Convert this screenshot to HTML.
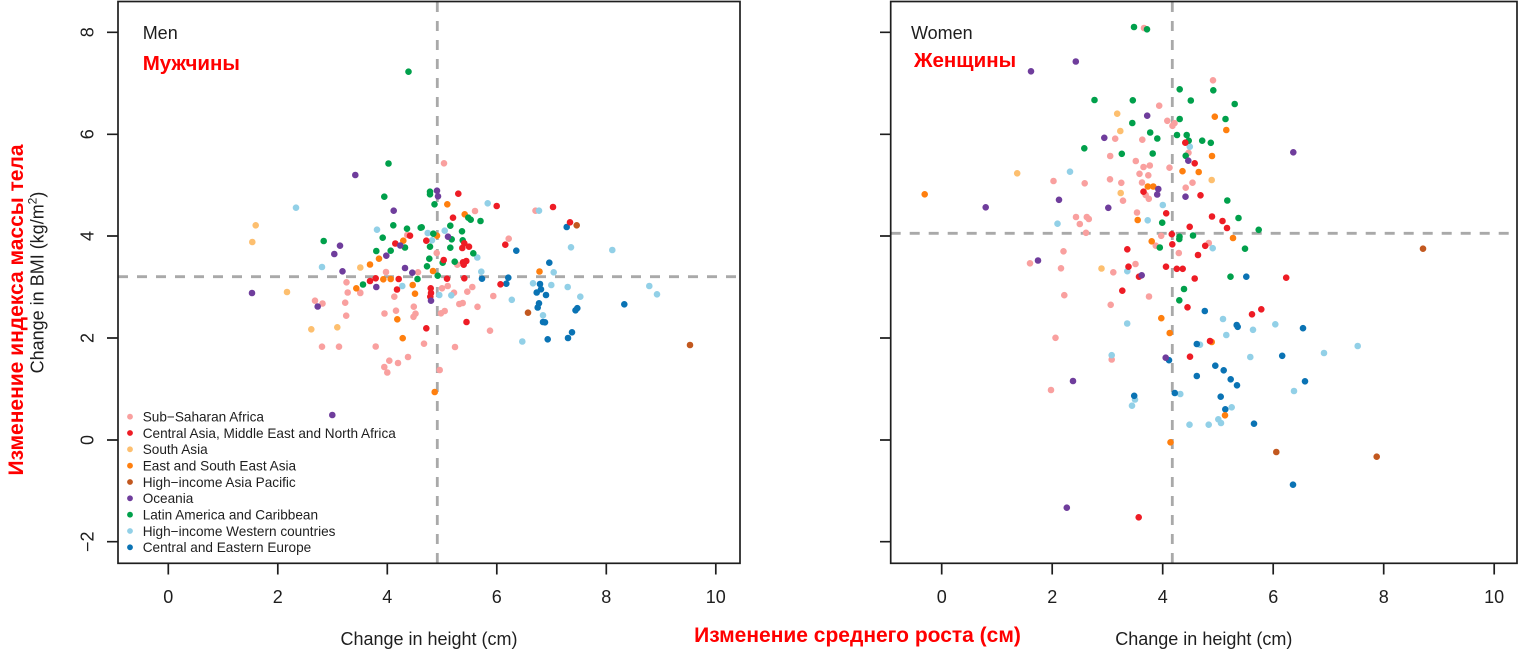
<!DOCTYPE html>
<html>
<head>
<meta charset="utf-8">
<style>
html,body{margin:0;padding:0;background:#fff;}
svg{display:block;}
text{font-family:"Liberation Sans",Arial,sans-serif;}
.pt{fill:none;stroke-linecap:round;stroke-width:6.6;}
</style>
</head>
<body>
<svg width="1520" height="651" viewBox="0 0 1520 651" xmlns="http://www.w3.org/2000/svg">
<rect width="1520" height="651" fill="#fff"/>

<!-- dashed reference lines -->
<g stroke="#a9a9a9" stroke-width="2.8" stroke-dasharray="10 9" fill="none">
<path d="M118 276.7H740"/>
<path d="M437.3 2V563"/>
<path d="M890.7 233.3H1517"/>
<path d="M1172.3 2V563"/>
</g>

<!-- LEFT PANEL POINTS -->
<path class="pt" stroke="#f9a09f" d="M386 272h0M418 272.3h0M346.5 282.3h0M347.7 292.5h0M360.3 293h0M394.3 296.7h0M315 300.7h0M322.5 303.5h0M345.2 302.7h0M346.2 315.7h0M384.5 313.5h0M396 310.7h0M413.8 306.7h0M415.5 313.7h0M413.5 316.8h0M322 346.7h0M339 346.7h0M375.7 346.5h0M384.3 367h0M387.3 372.5h0M389.3 360.7h0M398 363h0M408 357h0M444 163.3h0M475 211h0M535.5 210.7h0M407.3 235h0M436.7 253h0M457.3 264.7h0M442 288.3h0M447.7 286h0M454 292.7h0M467.3 291.7h0M472.3 287h0M493.3 296h0M441 313.3h0M444.7 311h0M459.3 304h0M462.7 303h0M477.5 306.8h0M490 330.7h0M424 343.7h0M455 347h0M439.7 370h0M508.7 238.7h0M360.3 292.7h0"/>
<path class="pt" stroke="#92d0e7" d="M296 207.7h0M377 229.7h0M322 267h0M402.3 286h0M487.7 203.3h0M539 210.7h0M427.7 233h0M444.7 230.7h0M432 240.3h0M477.3 257.5h0M481.3 271.7h0M533 283.3h0M439.3 295h0M451.3 295.3h0M511.8 299.8h0M571 247.3h0M612.3 250h0M553.7 272.3h0M551.3 285h0M567.7 287h0M580.3 296.7h0M649.3 286h0M657 294.3h0M543 315.3h0M522.3 341.5h0"/>
<path class="pt" stroke="#fdbf6f" d="M255.7 225.3h0M252.3 242h0M360.3 267.5h0M287 292h0M311.3 329.3h0M337.3 327.3h0"/>
<path class="pt" stroke="#0a73b4" d="M482 278.7h0M508.3 277.7h0M506.3 283.7h0M566.7 227h0M516.3 250.7h0M549.3 262.7h0M540 284h0M541 289.3h0M536.7 292.5h0M546 295h0M539 303.3h0M537.7 307.5h0M577.3 308.2h0M575.5 310.3h0M624.3 304.3h0M543 322h0M545 322.3h0M547.7 339.3h0M572 332.3h0M568 338h0"/>
<path class="pt" stroke="#ff7f0e" d="M403.3 240.7h0M379 258.7h0M370 264.5h0M383.3 279.3h0M390.7 279h0M356.3 288.3h0M412.7 285h0M415 293.7h0M397.3 319.3h0M402.7 338.2h0M447.3 204.3h0M464.7 214.3h0M437 235.7h0M433 271h0M539.5 271.5h0M434.7 392h0"/>
<path class="pt" stroke="#00a04b" d="M408.5 71.7h0M388.5 163.5h0M384.3 196.7h0M323.7 241h0M393.3 225.3h0M407 228.7h0M420.7 227.7h0M382.7 237.7h0M405 247.5h0M376.3 251h0M390.7 250.7h0M363 284.5h0M417.5 279h0M430 191.7h0M430 194.3h0M434.5 204.3h0M468.3 217.7h0M470.7 219.7h0M480.5 221h0M421.7 227.3h0M450.3 225.7h0M433.3 233.7h0M462 231.3h0M451.7 239.3h0M462.7 240.3h0M450.3 247.7h0M430 246.7h0M473.3 253.3h0M429.3 258.7h0M442.7 262.7h0M454.7 261.7h0M427 266.3h0M437.7 275.7h0"/>
<path class="pt" stroke="#ee1c25" d="M410 235.7h0M395.3 243.5h0M375.7 278.3h0M370 281h0M398.7 279h0M397 289.5h0M458.3 193.7h0M496.7 206h0M453 217.7h0M426.3 240.7h0M464.3 243.3h0M469 246.7h0M462.3 248h0M443.7 260h0M463 262.3h0M466.3 261h0M463.7 264.7h0M447 278.7h0M464.3 278.3h0M500.5 284.3h0M430.7 288.3h0M431 293h0M430.3 296.7h0M466.5 322h0M426.3 328.3h0M553 207h0M570 222.3h0M505.3 244.7h0"/>
<path class="pt" stroke="#6f3d9c" d="M355.3 175h0M393.7 210.7h0M340 245.7h0M400.3 245.5h0M334.3 254h0M386.3 255.7h0M342.5 271.3h0M405 268h0M376.3 287h0M252 293h0M317.7 306.5h0M437 190.7h0M438 196.3h0M448 236.7h0M412.3 272.7h0M431 300.7h0M332.3 415h0"/>
<path class="pt" stroke="#c2581f" d="M576.7 225.3h0M528 312.7h0M690 345h0"/>

<!-- RIGHT PANEL POINTS -->
<path class="pt" stroke="#f9a09f" d="M1144 28h0M1159.2 105.7h0M1167.3 120.8h0M1174.5 123.2h0M1172.5 125.8h0M1115.2 138.7h0M1142.3 139.7h0M1188.5 152.8h0M1110.2 156h0M1135.8 161h0M1143.5 167h0M1149.8 165.5h0M1169.5 167.7h0M1139.5 173.8h0M1148.3 175.3h0M1053.5 181h0M1084.7 183.3h0M1110 179.3h0M1121.3 182.8h0M1142 182.5h0M1192.5 182.7h0M1185.7 187.7h0M1145.7 195h0M1148.8 198.8h0M1123 200.7h0M1137 212.5h0M1076 217h0M1086.8 217h0M1088.8 219h0M1079.8 224h0M1086 232.8h0M1161.2 235.8h0M1155.8 245.7h0M1063.5 251.3h0M1178.8 253h0M1030 263.3h0M1061 268.3h0M1113.3 272.3h0M1135.5 264h0M1064.3 295.2h0M1149 296.5h0M1110.7 304.8h0M1213 80.3h0M1208.8 243h0M1055.5 337.8h0M1111.7 359.5h0M1051 390h0"/>
<path class="pt" stroke="#92d0e7" d="M1189.8 146.7h0M1070 171.7h0M1162.8 205h0M1147.7 220.3h0M1057.5 223.7h0M1127.3 271.2h0M1212.7 248.2h0M1127.2 323.5h0M1223 319h0M1253 329.8h0M1275.3 324.3h0M1226.3 335h0M1200 344.7h0M1111.7 355.2h0M1250.3 357h0M1324 353h0M1357.7 346h0M1294 391h0M1135 399.5h0M1132 405.7h0M1180.3 394h0M1231.7 407.3h0M1189.5 424.7h0M1208.7 424.7h0M1218.3 419.3h0M1221 423h0"/>
<path class="pt" stroke="#fdbf6f" d="M1117.2 113.7h0M1120.3 131h0M1017.2 173.3h0M1120.7 193h0M1101.5 268.5h0M1211.7 180h0"/>
<path class="pt" stroke="#0a73b4" d="M1246.3 276.7h0M1204.8 311h0M1236.7 325h0M1237.7 326.8h0M1303 328.2h0M1196.8 344h0M1169 360.2h0M1282.2 355.8h0M1215.3 365.7h0M1223.7 370.3h0M1196.8 376h0M1230.7 379.3h0M1237 385.3h0M1305 381.3h0M1134.2 395.8h0M1174.8 393h0M1220.7 396.7h0M1225.3 409.3h0M1254 423.7h0M1293 484.7h0"/>
<path class="pt" stroke="#ff7f0e" d="M1182.5 171.2h0M1198.7 172h0M1147.8 186.5h0M1153.3 186.5h0M924.7 194.3h0M1137.7 220h0M1151.7 241.3h0M1161.3 318.2h0M1214.8 116.7h0M1226.3 130h0M1212 156h0M1233 238h0M1169.7 333h0M1211.7 342h0M1225 415.3h0M1170.5 442.3h0"/>
<path class="pt" stroke="#00a04b" d="M1134 27h0M1147 29.3h0M1179.7 89.3h0M1094.5 100h0M1132.8 100.3h0M1190.8 100.5h0M1179.7 119h0M1132.3 123h0M1150.2 132.5h0M1157.3 138.5h0M1177 135h0M1186.7 135h0M1188.7 140.7h0M1084.3 148.3h0M1121.8 153.8h0M1152.7 153.5h0M1185.7 155.8h0M1162.2 222.7h0M1179.5 236.7h0M1179.3 239h0M1193 235.5h0M1159.8 247.5h0M1184 289h0M1179.3 300.3h0M1213.3 90.3h0M1234.7 104h0M1225.5 119h0M1202.2 140.7h0M1210.8 142.8h0M1227.3 200.5h0M1238.5 218h0M1258.7 229.8h0M1245 248.7h0M1230.5 276.7h0"/>
<path class="pt" stroke="#ee1c25" d="M1185.3 142.7h0M1194.7 163.3h0M1143.5 191.7h0M1200.5 195.3h0M1166.2 213.3h0M1189.7 226.8h0M1171.8 234.2h0M1172.3 244.3h0M1127.3 249.3h0M1198 255h0M1128.5 266.7h0M1166 266.7h0M1176.8 268.8h0M1182.7 268.8h0M1194.7 278.5h0M1139 276.7h0M1122.3 290.7h0M1187.5 307.3h0M1212 216.5h0M1222.5 221h0M1227 228h0M1205.2 245.8h0M1286.2 277.7h0M1252 314.3h0M1261.3 309.3h0M1210 341h0M1190 356.7h0M1138.7 517.3h0"/>
<path class="pt" stroke="#6f3d9c" d="M1075.8 61.5h0M1031 71.3h0M1147.2 115.7h0M1104.3 137.8h0M1188.3 160.7h0M1158.3 189h0M1157.2 194.5h0M1185.5 196.7h0M985.7 207.3h0M1059 199.8h0M1108.3 207.8h0M1038 260.5h0M1141.7 275.3h0M1293.3 152.3h0M1165.7 357.7h0M1073 381h0M1066.8 507.7h0"/>
<path class="pt" stroke="#c2581f" d="M1423 248.7h0M1276.3 452h0M1376.7 456.7h0"/>

<!-- axes boxes -->
<g fill="none" stroke="#1e1e1e" stroke-width="1.7">
<rect x="118" y="1.5" width="622" height="561.8"/>
<rect x="890.7" y="1.5" width="626.3" height="561.8"/>
<!-- left y ticks -->
<path d="M107 32.3H118M107 134.3H118M107 236H118M107 338H118M107 440H118M107 541.7H118"/>
<!-- right y ticks -->
<path d="M880 32.3H890.7M880 134.3H890.7M880 236H890.7M880 338H890.7M880 440H890.7M880 541.7H890.7"/>
<!-- left x ticks -->
<path d="M168.3 563.3V574.5M277.8 563.3V574.5M387.3 563.3V574.5M496.8 563.3V574.5M606.3 563.3V574.5M715.8 563.3V574.5"/>
<!-- right x ticks -->
<path d="M941.7 563.3V574.5M1052.2 563.3V574.5M1162.7 563.3V574.5M1273.2 563.3V574.5M1383.7 563.3V574.5M1494.2 563.3V574.5"/>
</g>

<!-- tick labels -->
<g font-size="18" fill="#1e1e1e" text-anchor="middle">
<text x="168.3" y="603">0</text>
<text x="277.8" y="603">2</text>
<text x="387.3" y="603">4</text>
<text x="496.8" y="603">6</text>
<text x="606.3" y="603">8</text>
<text x="715.8" y="603">10</text>
<text x="941.7" y="603">0</text>
<text x="1052.2" y="603">2</text>
<text x="1162.7" y="603">4</text>
<text x="1273.2" y="603">6</text>
<text x="1383.7" y="603">8</text>
<text x="1494.2" y="603">10</text>
<text transform="translate(93.5,32.3) rotate(-90)">8</text>
<text transform="translate(93.5,134.3) rotate(-90)">6</text>
<text transform="translate(93.5,236) rotate(-90)">4</text>
<text transform="translate(93.5,338) rotate(-90)">2</text>
<text transform="translate(93.5,440) rotate(-90)">0</text>
<text transform="translate(93.5,541.7) rotate(-90)">−2</text>
</g>

<!-- axis labels -->
<g font-size="18" fill="#1e1e1e" text-anchor="middle">
<text x="429" y="645">Change in height (cm)</text>
<text x="1203.8" y="645">Change in height (cm)</text>
<text transform="translate(43.5,282.5) rotate(-90)">Change in BMI (kg/m<tspan font-size="12" dy="-7">2</tspan><tspan dy="7">)</tspan></text>
</g>

<!-- panel titles -->
<text x="142.7" y="39" font-size="18" fill="#1e1e1e">Men</text>
<text x="142.7" y="70" font-size="20.5" font-weight="bold" fill="#ff0000">Мужчины</text>
<text x="911" y="39" font-size="18" fill="#1e1e1e">Women</text>
<text x="914" y="67" font-size="20.5" font-weight="bold" fill="#ff0000">Женщины</text>

<!-- Russian axis labels -->
<text x="857.5" y="642" font-size="21" font-weight="bold" fill="#ff0000" text-anchor="middle">Изменение среднего роста (см)</text>
<text transform="translate(23,310) rotate(-90)" font-size="21" font-weight="bold" fill="#ff0000" text-anchor="middle">Изменение индекса массы тела</text>

<!-- legend -->
<g>
<circle cx="130" cy="416.7" r="2.9" fill="#f9a09f"/>
<circle cx="130" cy="433" r="2.9" fill="#ee1c25"/>
<circle cx="130" cy="449.3" r="2.9" fill="#fdbf6f"/>
<circle cx="130" cy="465.7" r="2.9" fill="#ff7f0e"/>
<circle cx="130" cy="482" r="2.9" fill="#c2581f"/>
<circle cx="130" cy="498.3" r="2.9" fill="#6f3d9c"/>
<circle cx="130" cy="514.7" r="2.9" fill="#00a04b"/>
<circle cx="130" cy="531" r="2.9" fill="#92d0e7"/>
<circle cx="130" cy="547.3" r="2.9" fill="#0a73b4"/>
</g>
<g font-size="13.6" fill="#1e1e1e">
<text x="142.7" y="421.5">Sub−Saharan Africa</text>
<text x="142.7" y="437.8">Central Asia, Middle East and North Africa</text>
<text x="142.7" y="454.1">South Asia</text>
<text x="142.7" y="470.5">East and South East Asia</text>
<text x="142.7" y="486.8">High−income Asia Pacific</text>
<text x="142.7" y="503.1">Oceania</text>
<text x="142.7" y="519.5">Latin America and Caribbean</text>
<text x="142.7" y="535.8">High−income Western countries</text>
<text x="142.7" y="552.1">Central and Eastern Europe</text>
</g>
</svg>
</body>
</html>
